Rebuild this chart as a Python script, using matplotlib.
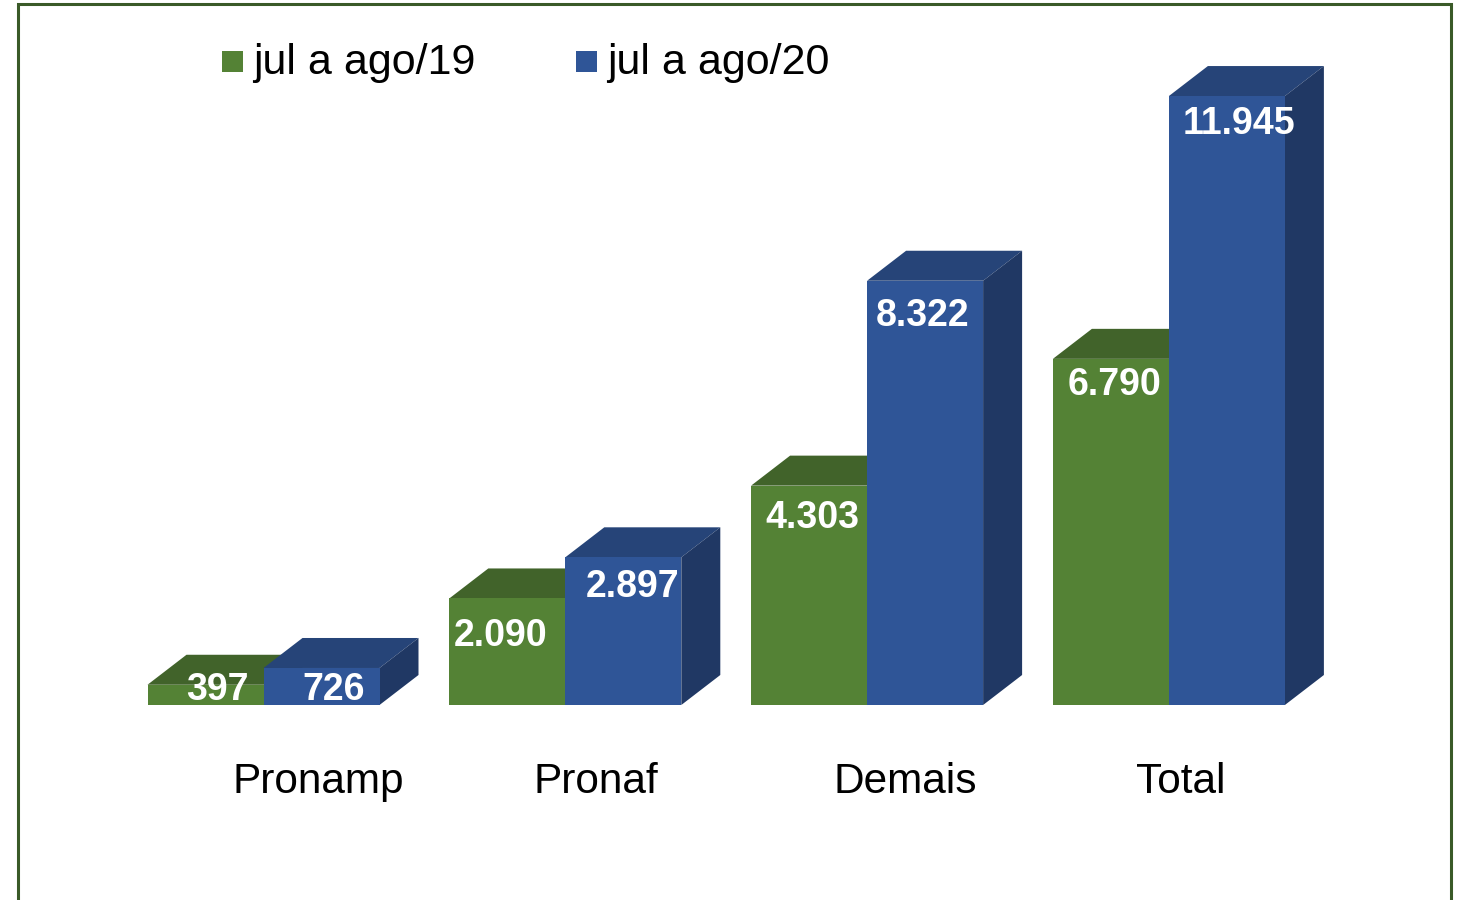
import matplotlib.pyplot as plt
from matplotlib.patches import Polygon, Rectangle

plt.rcParams['font.family'] = ['Liberation Sans', 'DejaVu Sans']

categories = ['Pronamp', 'Pronaf', 'Demais', 'Total']
series_names = ['jul a ago/19', 'jul a ago/20']
vals_19 = [397, 2090, 4303, 6790]
vals_20 = [726, 2897, 8322, 11945]

front_cols = ['#548235', '#2f5597']
top_cols = ['#41632a', '#264478']
side_cols = ['#35521f', '#203864']

# pixel mapping of the reference: 301.8 px per group, 0.05098 px per unit
gpx = 301.8
vpx = 0.05098
x0 = 263.5
base = 705

# label nudges in px (the original has a perspective look)
lab_dx = [[12, -7, 3, 4], [12, 9, -3, 12]]
lab_dy = [[None, 38, 32, 26], [None, 30, 35, 28]]

fig = plt.figure(figsize=(14.6, 9), dpi=100)
ax = fig.add_axes([0, 0, 1, 1])
ax.set_xlim(-x0 / gpx, (1460 - x0) / gpx)
ax.set_ylim(-(900 - base) / vpx, base / vpx)
ax.axis('off')

w = 116 / gpx
dx = 39 / gpx
dy = 30 / vpx


def fmt(v):
    return f'{v:,}'.replace(',', '.')


def bar3d(x, v, k, i):
    # front, top and side faces
    ax.add_patch(Polygon([(x, v), (x + dx, v + dy), (x + w + dx, v + dy), (x + w, v)],
                         closed=True, color=top_cols[k], lw=0))
    ax.add_patch(Polygon([(x + w, 0), (x + w + dx, dy), (x + w + dx, v + dy), (x + w, v)],
                         closed=True, color=side_cols[k], lw=0))
    ax.bar(x, v, width=w, align='edge', color=front_cols[k], lw=0)
    oy = lab_dy[k][i]
    ly = 15 / vpx if oy is None else v - oy / vpx
    ax.text(x + w / 2 + lab_dx[k][i] / gpx, ly, fmt(v), color='white', fontsize=27,
            fontweight='bold', ha='center', va='center')


for i in range(len(categories)):
    bar3d(i - w, vals_19[i], 0, i)
    bar3d(i, vals_20[i], 1, i)

cat_off = [0.18, 0.10, 0.126, 0.04]
for i, c in enumerate(categories):
    ax.text(i + cat_off[i], -77 / vpx, c, fontsize=30.5, ha='center', va='center', color='black')

# legend
for k, (sx, name) in enumerate(zip([222, 576], series_names)):
    fig.patches.append(Rectangle((sx / 1460, 1 - 72 / 900), 21 / 1460, 21 / 900,
                                 transform=fig.transFigure, color=front_cols[k], lw=0))
    fig.text((sx + 31) / 1460, 1 - 63 / 900, name, fontsize=31, ha='left', va='center')

# outer frame
fig.patches.append(Rectangle((18 / 1460, -0.05), 1433 / 1460, 1.05 - 4 / 900,
                             transform=fig.transFigure, fill=False, ec='#3a5a28', lw=2.2))

plt.savefig('out.png', dpi=100)
